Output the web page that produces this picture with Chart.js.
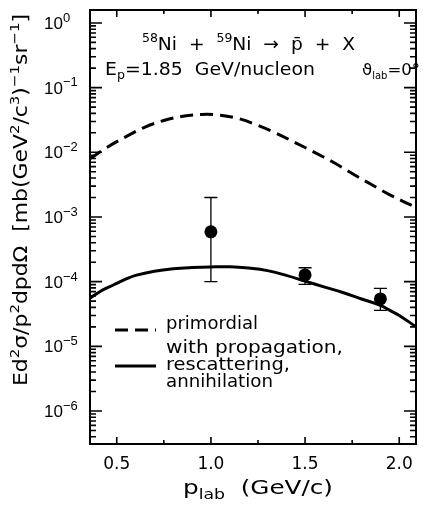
<!DOCTYPE html>
<html>
<head>
<meta charset="utf-8">
<script src="https://cdn.jsdelivr.net/npm/chart.js@4/dist/chart.umd.min.js"></script>
<style>
  html, body { margin: 0; padding: 0; background: #fff; }
  canvas { display: block; }
</style>
</head>
<body>
<canvas id="chart" width="423" height="506"></canvas>
<script>
// primordial antiproton spectrum (dashed)
const primordialP = [0.36, 0.45, 0.55, 0.65, 0.75, 0.85, 0.95, 1.05, 1.15, 1.25, 1.35, 1.45, 1.55, 1.65, 1.75, 1.85, 1.95, 2.09];
const primordialY = [8.0e-3, 1.2e-2, 1.75e-2, 2.45e-2, 3.1e-2, 3.6e-2, 3.85e-2, 3.75e-2, 3.3e-2, 2.6e-2, 1.95e-2, 1.4e-2, 1.0e-2, 7.0e-3, 4.7e-3, 3.2e-3, 2.2e-3, 1.4e-3];

// with propagation, rescattering, annihilation (solid)
const transportP = [0.36, 0.41, 0.46, 0.5, 0.55, 0.6, 0.7, 0.8, 0.9, 1.0, 1.1, 1.2, 1.3, 1.4, 1.5, 1.6, 1.7, 1.8, 1.9, 1.95, 2.0, 2.09];
const transportY = [5.6e-5, 7.0e-5, 8.3e-5, 9.4e-5, 1.1e-4, 1.25e-4, 1.45e-4, 1.58e-4, 1.65e-4, 1.69e-4, 1.7e-4, 1.62e-4, 1.48e-4, 1.25e-4, 1.02e-4, 8.3e-5, 6.8e-5, 5.4e-5, 4.3e-5, 3.6e-5, 3.0e-5, 2.0e-5];

// measured points with error bars
const measuredP = [1.0, 1.5, 1.9];
const measuredY = [5.9e-4, 1.27e-4, 5.4e-5];
const measuredLow = [1.0e-4, 9.1e-5, 3.6e-5];
const measuredHigh = [2.0e-3, 1.64e-4, 7.9e-5];

// axes
const xTickValues = [0.5, 1.0, 1.5, 2.0];
const xTickLabels = ["0.5", "1.0", "1.5", "2.0"];
const xMinorTicks = [0.75, 1.25, 1.75];
const yTickValues = [1, 1e-1, 1e-2, 1e-3, 1e-4, 1e-5, 1e-6];
const yTickExponents = ["0", "\u22121", "\u22122", "\u22123", "\u22124", "\u22125", "\u22126"];

const FONT = "'DejaVu Sans', sans-serif";
const TICK_FONT = "'Liberation Sans', Arial, sans-serif";

const toPoints = (xs, ys) => xs.map((x, i) => ({ x, y: ys[i] }));

const richWidth = (ctx, parts, size, family = FONT, ratio = 0.68) => {
  const small = Math.round(size * ratio);
  return parts.reduce((s, [t, m]) => {
    ctx.font = `${m ? small : size}px ${family}`;
    return s + ctx.measureText(t).width;
  }, 0);
};

/*
 * draws text with super- and subscripts.
 * parts: [[text, mode]] with mode "", "sup" or "sub".
 * fit: optional width the text is stretched to.
 */
const drawRich = (ctx, parts, x, y, size, align, { family = FONT, ratio = 0.68, fit } = {}) => {
  const small = Math.round(size * ratio);
  const total = richWidth(ctx, parts, size, family, ratio);
  const sx = fit ? fit / total : 1;
  const shown = total * sx;
  const left = align === "center" ? x - shown / 2 : align === "right" ? x - shown : x;
  ctx.save();
  ctx.translate(left, y);
  ctx.scale(sx, 1);
  ctx.textAlign = "left";
  ctx.textBaseline = "alphabetic";
  let cx = 0;
  parts.forEach(([t, m]) => {
    ctx.font = `${m ? small : size}px ${family}`;
    const dy = m === "sup" ? -size * 0.42 : m === "sub" ? size * 0.24 : 0;
    ctx.fillText(t, cx, dy);
    cx += ctx.measureText(t).width;
  });
  ctx.restore();
};

const yTitleParts = [
  ["Ed", ""], ["2", "sup"], ["\u03c3/p", ""], ["2", "sup"], ["dpd\u03a9  [mb(GeV", ""],
  ["2", "sup"], ["/c", ""], ["3", "sup"], [")", ""], ["\u22121", "sup"], ["sr", ""], ["\u22121", "sup"], ["]", ""],
];

const framePlugin = {
  id: "frame",
  beforeDatasetsDraw(chart) {
    const { ctx } = chart;
    const xs = chart.scales.x;
    const ys = chart.scales.y;
    ctx.save();
    // error bars
    ctx.strokeStyle = "#000";
    ctx.lineWidth = 1.3;
    measuredP.forEach((p, i) => {
      const px = xs.getPixelForValue(p);
      const top = ys.getPixelForValue(measuredHigh[i]);
      const bot = ys.getPixelForValue(measuredLow[i]);
      ctx.beginPath();
      ctx.moveTo(px, top);
      ctx.lineTo(px, bot);
      ctx.moveTo(px - 6.5, top);
      ctx.lineTo(px + 6.5, top);
      ctx.moveTo(px - 6.5, bot);
      ctx.lineTo(px + 6.5, bot);
      ctx.stroke();
    });
    ctx.restore();
  },
  afterDraw(chart) {
    const { ctx, chartArea: a } = chart;
    const xs = chart.scales.x;
    const ys = chart.scales.y;
    ctx.save();
    ctx.fillStyle = "#000";
    ctx.strokeStyle = "#000";

    // frame
    ctx.lineWidth = 2;
    ctx.strokeRect(a.left, a.top, a.right - a.left, a.bottom - a.top);

    // x ticks, inner, bottom and top
    ctx.lineWidth = 1.6;
    const xTick = (v, len) => {
      const px = xs.getPixelForValue(v);
      ctx.beginPath();
      ctx.moveTo(px, a.bottom);
      ctx.lineTo(px, a.bottom - len);
      ctx.moveTo(px, a.top);
      ctx.lineTo(px, a.top + len);
      ctx.stroke();
    };
    xTickValues.forEach((v) => xTick(v, 7));
    xMinorTicks.forEach((v) => xTick(v, 4));

    // y ticks, inner, left and right
    const yTick = (v, len) => {
      const py = ys.getPixelForValue(v);
      if (py < a.top || py > a.bottom) return;
      ctx.beginPath();
      ctx.moveTo(a.left, py);
      ctx.lineTo(a.left + len, py);
      ctx.moveTo(a.right, py);
      ctx.lineTo(a.right - len, py);
      ctx.stroke();
    };
    yTickValues.forEach((v) => {
      yTick(v, 12);
      for (let k = 2; k <= 9; k++) yTick(v * k, 6);
    });
    for (let k = 3; k <= 9; k++) yTick(1e-7 * k, 6);

    // x tick labels
    ctx.font = `17px ${FONT}`;
    ctx.textAlign = "center";
    ctx.textBaseline = "alphabetic";
    xTickValues.forEach((v, i) => {
      ctx.fillText(xTickLabels[i], xs.getPixelForValue(v), 469);
    });

    // y tick labels
    yTickValues.forEach((v, i) => {
      const py = ys.getPixelForValue(v);
      drawRich(ctx, [["10", ""], [yTickExponents[i], "sup"]], 44, py + 6, 17, "left", { family: TICK_FONT, ratio: 0.78 });
    });

    // x title
    drawRich(ctx, [["p", ""], ["lab", "sub"], ["  (GeV/c)", ""]], 258, 494, 20, "center", { fit: 150 });

    // y title
    ctx.save();
    ctx.translate(20, 200);
    ctx.rotate(-Math.PI / 2);
    drawRich(ctx, yTitleParts, 0, 7, 19, "center", { fit: 372 });
    ctx.restore();

    // reaction labels
    drawRich(ctx, [
      ["58", "sup"], ["Ni  +  ", ""], ["59", "sup"], ["Ni  \u2192  p\u0304  +  X", ""],
    ], 142, 50, 18, "left", { fit: 213 });
    drawRich(ctx, [
      ["E", ""], ["p", "sub"], ["=1.85  GeV/nucleon", ""],
    ], 105, 75, 18, "left", { fit: 210 });
    drawRich(ctx, [
      ["\u03d1", ""], ["lab", "sub"], ["=0\u00b0", ""],
    ], 362, 75, 16.5, "left", { ratio: 0.62 });

    // legend
    ctx.lineWidth = 3;
    ctx.setLineDash([13, 7]);
    ctx.beginPath();
    ctx.moveTo(115, 330);
    ctx.lineTo(156, 330);
    ctx.stroke();
    ctx.setLineDash([]);
    ctx.beginPath();
    ctx.moveTo(115, 366);
    ctx.lineTo(156, 366);
    ctx.stroke();
    drawRich(ctx, [["primordial", ""]], 166, 329, 17.5, "left", { fit: 92 });
    drawRich(ctx, [["with propagation,", ""]], 166, 353, 17.5, "left", { fit: 177 });
    drawRich(ctx, [["rescattering,", ""]], 166, 370, 17.5, "left", { fit: 124 });
    drawRich(ctx, [["annihilation", ""]], 166, 387, 17.5, "left", { fit: 107 });

    ctx.restore();
  },
};

new Chart(document.getElementById("chart"), {
  type: "line",
  data: {
    datasets: [
      {
        label: "primordial",
        data: toPoints(primordialP, primordialY),
        borderColor: "#000",
        borderWidth: 3,
        borderDash: [13, 7],
        pointRadius: 0,
        tension: 0.4,
        fill: false,
      },
      {
        label: "with propagation, rescattering, annihilation",
        data: toPoints(transportP, transportY),
        borderColor: "#000",
        borderWidth: 3,
        pointRadius: 0,
        tension: 0.4,
        fill: false,
      },
      {
        label: "data",
        data: toPoints(measuredP, measuredY),
        showLine: false,
        pointRadius: 6.5,
        pointBackgroundColor: "#000",
        pointBorderColor: "#000",
        pointBorderWidth: 0,
      },
    ],
  },
  options: {
    responsive: false,
    animation: false,
    devicePixelRatio: 1,
    layout: { padding: { left: 90, right: 7, top: 10, bottom: 62 } },
    plugins: {
      legend: { display: false },
      tooltip: { enabled: false },
    },
    scales: {
      x: { type: "linear", min: 0.358, max: 2.089, display: false },
      y: { type: "logarithmic", min: Math.pow(10, -6.51), max: Math.pow(10, 0.2), display: false },
    },
  },
  plugins: [framePlugin],
});
</script>
</body>
</html>
